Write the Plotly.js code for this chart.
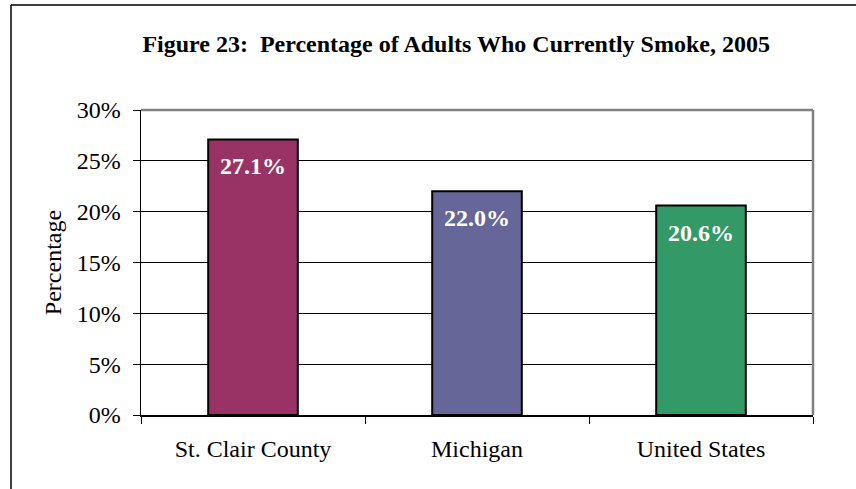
<!DOCTYPE html>
<html>
<head>
<meta charset="utf-8">
<script src="https://cdn.plot.ly/plotly-3.0.1.min.js"></script>
<style>html,body{margin:0;padding:0;background:#fff;}#chart{width:856px;height:489px;}</style>
</head>
<body>
<div id="chart"></div>
<script>
const categories = ["St. Clair County", "Michigan", "United States"];
const values = [27.1, 22.0, 20.6];
const barColors = ["#993366", "#666699", "#339966"];
const yTickValues = [0, 5, 10, 15, 20, 25, 30];
const titleText = "Figure 23:  Percentage of Adults Who Currently Smoke, 2005";
const yTitleText = "Percentage";

const FONT = "Liberation Serif, Times New Roman, serif";

const trace = {
  type: "bar",
  x: categories,
  y: values,
  width: 0.4,
  marker: { color: barColors, line: { color: "#000", width: 2 } },
  hoverinfo: "skip"
};

const annotations = categories.map((c, i) => ({
  x: c, y: values[i], xref: "x", yref: "y",
  text: "<b>" + values[i].toFixed(1) + "%</b>",
  showarrow: false, yanchor: "middle", yshift: -27,
  font: { family: FONT, size: 24, color: "#fff" }
}));

const layout = {
  width: 856, height: 489,
  margin: { l: 141, r: 43, t: 110, b: 74 },
  paper_bgcolor: "#fff", plot_bgcolor: "#fff",
  showlegend: false,
  font: { family: FONT, size: 24, color: "#000" },
  title: {
    text: "<b>" + titleText + "</b>",
    font: { family: FONT, size: 24, color: "#000" },
    x: 0.469, xanchor: "center", y: 0.91, yanchor: "middle", xref: "paper", yref: "container"
  },
  xaxis: {
    type: "category",
    tickson: "boundaries",
    ticks: "outside", ticklen: 7, tickcolor: "#000", tickwidth: 1,
    ticklabelstandoff: 12,
    showline: true, linecolor: "#000", linewidth: 1.5,
    showgrid: false, zeroline: false,
    tickfont: { family: FONT, size: 24, color: "#000" },
    fixedrange: true
  },
  yaxis: {
    range: [0, 30],
    tickvals: yTickValues,
    ticktext: yTickValues.map(v => v + "%"),
    ticks: "outside", ticklen: 7, tickcolor: "#000", tickwidth: 1,
    ticklabelstandoff: 7,
    showline: true, linecolor: "#000", linewidth: 1.5,
    showgrid: true, gridcolor: "#000", gridwidth: 1,
    zeroline: false,
    tickfont: { family: FONT, size: 24, color: "#000" },
    title: { text: yTitleText, font: { family: FONT, size: 24, color: "#000" }, standoff: 8 },
    fixedrange: true
  },
  annotations: annotations,
  shapes: [
    { type: "line", xref: "paper", yref: "paper", x0: 0, x1: 1, y0: 1, y1: 1, line: { color: "#808080", width: 2.5 }, layer: "above" },
    { type: "line", xref: "paper", yref: "paper", x0: 1, x1: 1, y0: 0, y1: 1, line: { color: "#808080", width: 2.5 }, layer: "above" },
    { type: "line", xref: "paper", yref: "paper", x0: -130/672, x1: 1.2, y0: 1 + 105/305, y1: 1 + 105/305, line: { color: "#000", width: 1.5 } },
    { type: "line", xref: "paper", yref: "paper", x0: -130/672, x1: -130/672, y0: -1, y1: 1 + 105/305, line: { color: "#000", width: 1.5 } }
  ]
};

Plotly.newPlot("chart", [trace], layout, { displayModeBar: false, staticPlot: true });
</script>
</body>
</html>
